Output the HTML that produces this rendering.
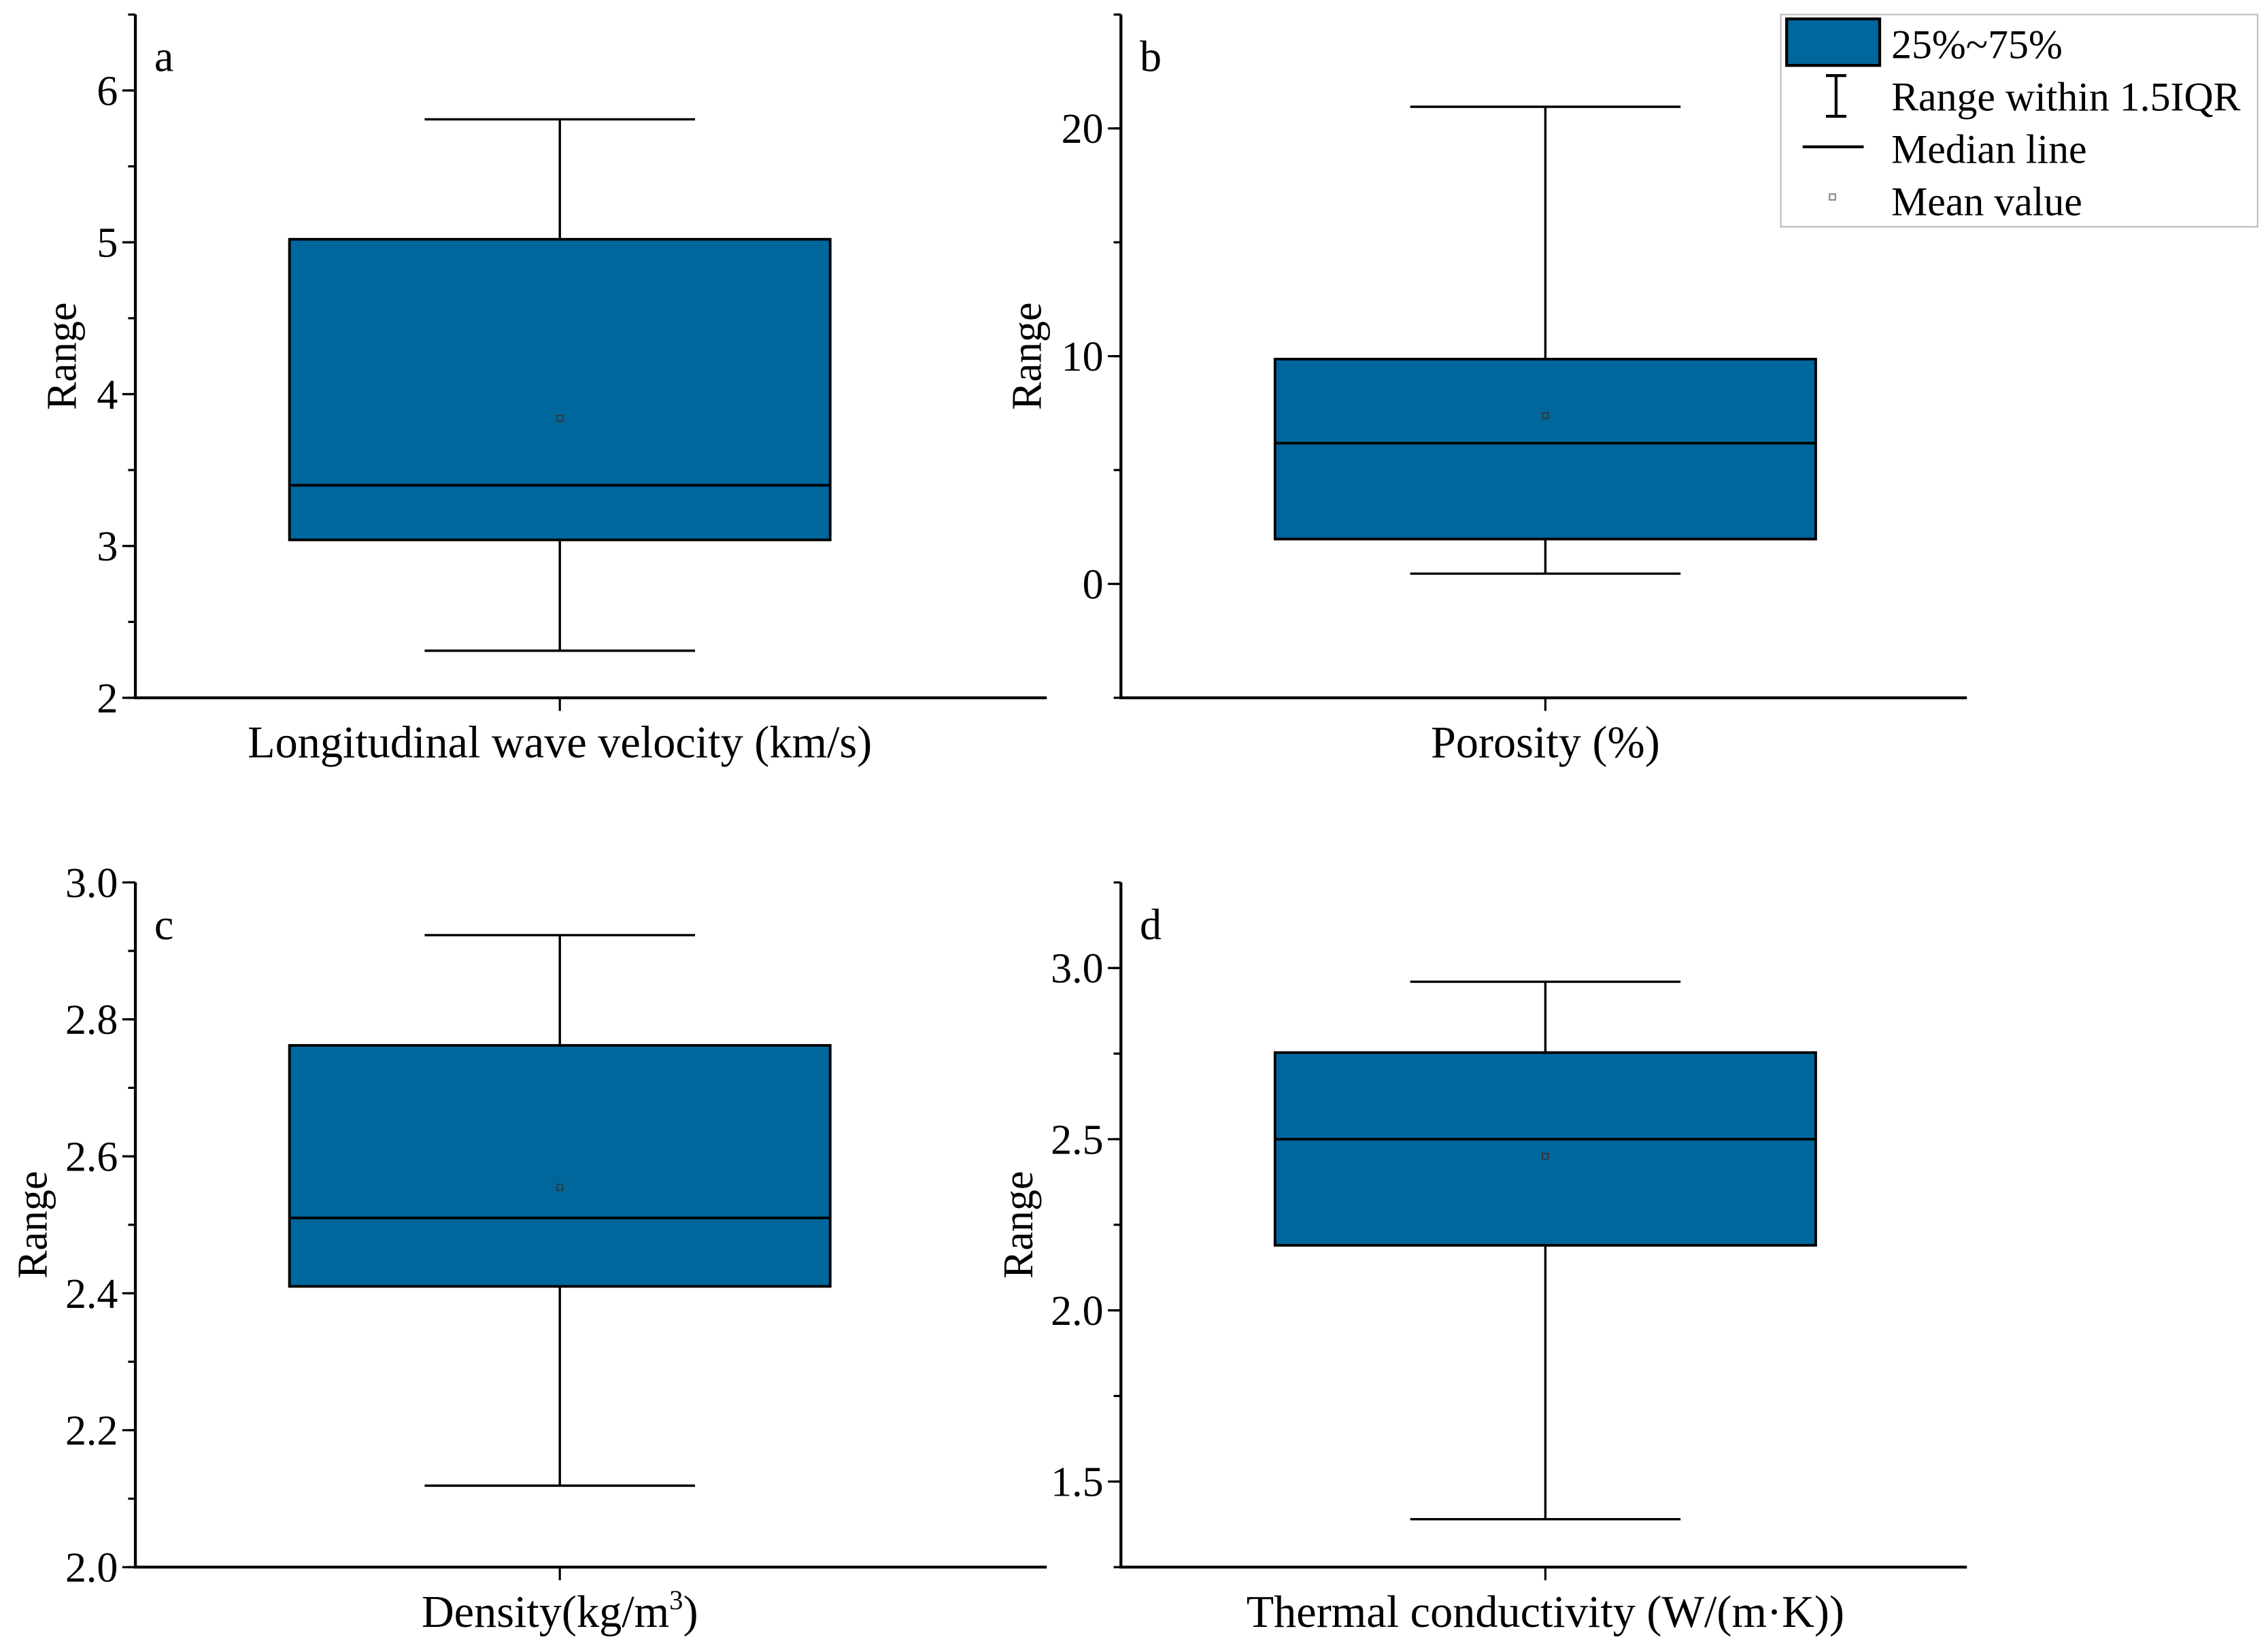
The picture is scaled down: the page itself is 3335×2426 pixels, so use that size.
<!DOCTYPE html>
<html><head><meta charset="utf-8"><style>
html,body{margin:0;padding:0;background:#fff;}
svg{display:block;}
text{font-family:"Liberation Serif",serif;fill:#000;}
</style></head><body>
<svg id="chart" width="3335" height="2426" viewBox="0 0 1560 1135" xmlns="http://www.w3.org/2000/svg">
<g id="legend">
<rect x="1225" y="10" width="328" height="146" fill="#fff" stroke="#bbb" stroke-width="1"/>
<rect x="1229" y="13" width="64" height="32" fill="#00679c" stroke="#000" stroke-width="2"/>
<text x="1301" y="40" font-size="28">25%~75%</text>
<path d="M1256 52H1270M1263 52V80M1256 80H1270" stroke="#000" stroke-width="2" fill="none"/>
<text x="1301" y="76" font-size="28">Range within 1.5IQR</text>
<line x1="1240" y1="101" x2="1282" y2="101" stroke="#000" stroke-width="2"/>
<text x="1301" y="112" font-size="28">Median line</text>
<rect x="1258.5" y="133.5" width="4" height="4" fill="none" stroke="#888" stroke-width="1"/>
<text x="1301" y="148" font-size="28">Mean value</text>
</g>
</svg>
<script>
const panelLabels = ['a','b','c','d'];
const xTitles = ['Longitudinal wave velocity (km/s)','Porosity (%)','Density(kg/m3)','Thermal conductivity (W/(m·K))'];
const yMins = [2, -5, 2.0, 1.25];
const yMaxs = [6.5, 25, 3.0, 3.25];
const majorTicks = [[2,3,4,5,6],[0,10,20],[2.0,2.2,2.4,2.6,2.8,3.0],[1.5,2.0,2.5,3.0]];
const tickLabels = [['2','3','4','5','6'],['0','10','20'],['2.0','2.2','2.4','2.6','2.8','3.0'],['1.5','2.0','2.5','3.0']];
const minorSteps = [0.5, 5, 0.1, 0.25];
const whiskerLow = [2.31, 0.45, 2.119, 1.39];
const q1 = [3.04, 1.97, 2.41, 2.19];
const medians = [3.40, 6.18, 2.51, 2.50];
const q3 = [5.02, 9.87, 2.762, 2.753];
const whiskerHigh = [5.81, 20.95, 2.923, 2.96];
const means = [3.84, 7.39, 2.555, 2.45];

const NS='http://www.w3.org/2000/svg';
const svg=document.getElementById('chart');
const layouts=[{x0:93,x1:720,y0:10,y1:480,yt:51},{x0:771,x1:1353,y0:10,y1:480,yt:65},{x0:93,x1:720,y0:607,y1:1078,yt:71},{x0:771,x1:1353,y0:607,y1:1078,yt:71}];
function mk(tag,attrs,parent){const e=document.createElementNS(NS,tag);for(const k in attrs)e.setAttribute(k,attrs[k]);(parent||svg).appendChild(e);return e;}
for(let i=0;i<4;i++){
  const L=layouts[i];
  const g=mk('g',{});
  
  
  const ys=v=>L.y1-(v-yMins[i])/(yMaxs[i]-yMins[i])*(L.y1-L.y0);
  const cx=L.x0+292;
  const hb=186, hc=93;
  const ya=mk('line',{x1:L.x0,y1:L.y0,x2:L.x0,y2:L.y1,stroke:'#000','stroke-width':2},g);
  
  
  const xa=mk('line',{x1:L.x0-1,y1:L.y1,x2:L.x1,y2:L.y1,stroke:'#000','stroke-width':2},g);
  
  
  mk('line',{x1:cx,y1:L.y1,x2:cx,y2:L.y1+9,stroke:'#000','stroke-width':1.5},g);
  const st=minorSteps[i];
  for(let v=Math.ceil(yMins[i]/st-1e-9)*st; v<=yMaxs[i]+1e-9; v+=st){
    mk('line',{x1:L.x0-5,y1:ys(v),x2:L.x0,y2:ys(v),stroke:'#000','stroke-width':1.5},g);
  }
  majorTicks[i].forEach((v,j)=>{
    mk('line',{x1:L.x0-9,y1:ys(v),x2:L.x0,y2:ys(v),stroke:'#000','stroke-width':1.5},g);
    const t=mk('text',{x:L.x0-12,y:ys(v)+10,'font-size':29,'text-anchor':'end'},g);
    t.textContent=tickLabels[i][j];
    
    
  });
  const yt=mk('text',{x:0,y:0,'font-size':29,'text-anchor':'middle',transform:`translate(${L.x0-L.yt+10},${(L.y0+L.y1)/2}) rotate(-90)`},g);
  yt.textContent='Range';
  
  
  const xt=mk('text',{x:cx,y:L.y1+41,'font-size':31,'text-anchor':'middle'},g);
  if(i===2){xt.innerHTML='Density(kg/m<tspan dy="-12" font-size="19">3</tspan><tspan dy="12">)</tspan>';}
  else xt.textContent=xTitles[i];
  
  
  const pl=mk('text',{x:L.x0+13,y:L.y0+39,'font-size':30},g);
  pl.textContent=panelLabels[i];
  
  
  const wh=mk('path',{d:`M${cx} ${ys(whiskerHigh[i])}V${ys(q3[i])}M${cx} ${ys(q1[i])}V${ys(whiskerLow[i])}M${cx-hc} ${ys(whiskerHigh[i])}H${cx+hc}M${cx-hc} ${ys(whiskerLow[i])}H${cx+hc}`,stroke:'#000','stroke-width':1.6,fill:'none'},g);
  
  
  const box=mk('rect',{x:cx-hb,y:ys(q3[i]),width:2*hb,height:ys(q1[i])-ys(q3[i]),fill:'#00679c',stroke:'#000','stroke-width':1.8},g);
  
  
  const md=mk('line',{x1:cx-hb,y1:ys(medians[i]),x2:cx+hb,y2:ys(medians[i]),stroke:'#000','stroke-width':1.8},g);
  
  
  const mn=mk('rect',{x:cx-2,y:ys(means[i])-2,width:4,height:4,fill:'none',stroke:'#333','stroke-width':0.8},g);
  
  
}
</script>
</body></html>
